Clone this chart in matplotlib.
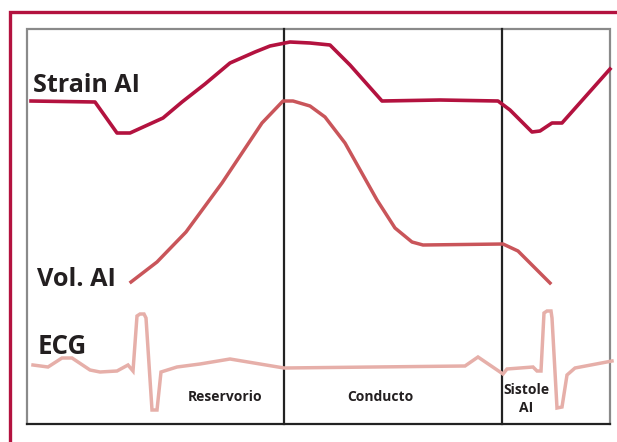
import matplotlib
matplotlib.use("Agg")
import matplotlib.pyplot as plt

# ---- data (schematic curves; image-like units) ----
strain_x = [31, 95, 117, 130, 163, 182, 205, 230, 255, 270, 290, 310, 330, 350, 382, 440, 498, 510, 532, 540, 552, 562, 610]
strain_y = [101, 102, 133, 133, 118, 102, 84, 63, 52, 46, 42, 43, 45, 65, 101, 100, 101, 110, 132, 131, 123, 123, 69]

vol_x = [131, 157, 186, 222, 262, 283, 293, 310, 325, 345, 377, 395, 412, 423, 503, 518, 550]
vol_y = [282, 262, 232, 183, 123, 101, 101, 106, 117, 143, 200, 228, 242, 245, 244, 251, 283]

ecg_x = [33, 48, 62, 72, 90, 100, 117, 128, 133, 137, 140, 144, 146, 152, 157, 161, 177, 200, 230, 284, 465, 478, 503, 507, 533, 537, 541, 544, 547, 551, 552, 557, 562, 567, 575, 612]
ecg_y = [365, 367, 358, 358, 370, 372, 371, 365, 371, 316, 314, 314, 318, 410, 410, 372, 367, 364, 359, 368, 366, 357, 374, 369, 367, 371, 371, 313, 311, 311, 318, 408, 407, 375, 368, 361]

phase_bounds = [284, 502]
phase_labels = ["Reservorio", "Conducto", "Sistole\nAI"]
curve_labels = ["Strain AI", "Vol. AI", "ECG"]

# ---- figure ----
fig = plt.figure(figsize=(6.17, 4.42), dpi=100)
ax = fig.add_axes([0, 0, 1, 1])
ax.set_xlim(0, 617)
ax.set_ylim(442, 0)
ax.axis("off")

crimson = "#B3123F"
volc = "#C9555A"
ecgc = "#E6AFA9"
textc = "#231F20"

# outer decorative frame
ax.plot([10, 10, 617], [442, 11.5, 11.5], color=crimson, lw=2.4, solid_capstyle="butt", solid_joinstyle="miter")
# inner box
ax.plot([26.5, 26.5, 610, 610], [424, 29, 29, 424], color="#8A8A8A", lw=1.6, solid_joinstyle="miter")
ax.plot([26.5, 610], [424, 424], color="#222222", lw=1.6)
for xb in phase_bounds:
    ax.plot([xb, xb], [29, 424], color="#222222", lw=1.6)

# curves
ax.plot(ecg_x, ecg_y, color=ecgc, lw=2.5, solid_joinstyle="miter")
ax.plot(vol_x, vol_y, color=volc, lw=2.5)
ax.plot(strain_x, strain_y, color=crimson, lw=2.6)

fam = ["Open Sans", "DejaVu Sans"]
ax.text(33, 85, curve_labels[0], fontsize=18, fontweight="bold", color=textc, family=fam, va="center", ha="left")
ax.text(37, 280, curve_labels[1], fontsize=18.2, fontweight="bold", color=textc, family=fam, va="center", ha="left")
ax.text(38, 347, curve_labels[2], fontsize=18.6, fontweight="bold", color=textc, family=fam, va="center", ha="left")

ax.text(225, 397, phase_labels[0], fontsize=10, fontweight="bold", color=textc, family=fam, va="center", ha="center")
ax.text(380, 397, phase_labels[1], fontsize=10, fontweight="bold", color=textc, family=fam, va="center", ha="center")
ax.text(526, 399, phase_labels[2], fontsize=10, fontweight="bold", color=textc, family=fam, va="center", ha="center", linespacing=1.45)

fig.savefig("out.png", dpi=100, facecolor="white")
